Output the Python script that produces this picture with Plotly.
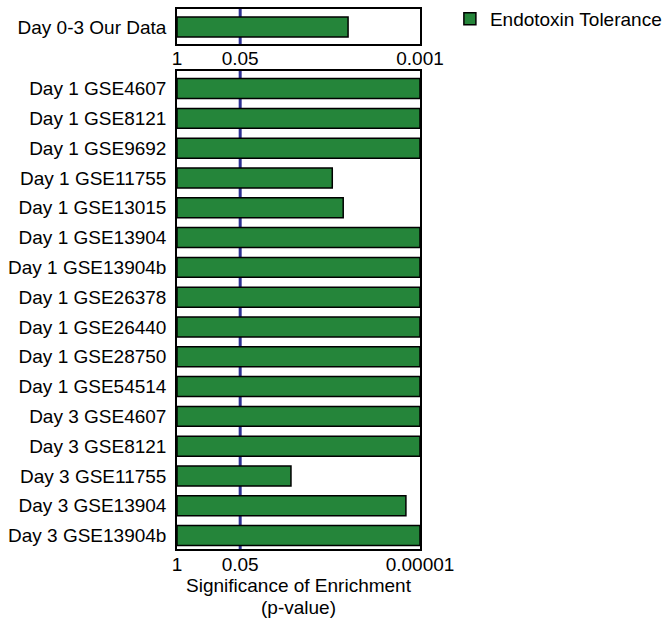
import plotly.graph_objects as go

# Data (bar length in axis units: 0 = "1", 0.26 = "0.05", 1 = max label)
top_categories = ["Day 0-3 Our Data"]
top_values = [0.704]
top_tick_vals = [0, 0.26, 1]
top_tick_text = ["1", "0.05", "0.001"]

bottom_categories = [
    "Day 1 GSE4607", "Day 1 GSE8121", "Day 1 GSE9692", "Day 1 GSE11755",
    "Day 1 GSE13015", "Day 1 GSE13904", "Day 1 GSE13904b", "Day 1 GSE26378",
    "Day 1 GSE26440", "Day 1 GSE28750", "Day 1 GSE54514", "Day 3 GSE4607",
    "Day 3 GSE8121", "Day 3 GSE11755", "Day 3 GSE13904", "Day 3 GSE13904b",
]
bottom_values = [1, 1, 1, 0.639, 0.684, 1, 1, 1, 1, 1, 1, 1, 1, 0.469, 0.942, 1]
bottom_tick_vals = [0, 0.26, 1]
bottom_tick_text = ["1", "0.05", "0.00001"]
threshold = 0.26  # p = 0.05 position

series_name = "Endotoxin Tolerance"
x_title_lines = ["Significance of Enrichment", "(p-value)"]
GREEN = "#25853a"
NAVY = "#2e3192"
FONT = "Liberation Sans, Arial, sans-serif"

fig = go.Figure()

fig.add_trace(go.Bar(
    x=top_values, y=list(range(len(top_categories))), orientation="h",
    width=0.67, marker=dict(color=GREEN, line=dict(color="black", width=1.5)),
    name=series_name, showlegend=True, xaxis="x2", yaxis="y2",
    hoverinfo="skip",
))
fig.add_trace(go.Bar(
    x=bottom_values, y=list(range(len(bottom_categories))), orientation="h",
    width=0.67, marker=dict(color=GREEN, line=dict(color="black", width=1.5)),
    name=series_name, showlegend=False, xaxis="x", yaxis="y",
    hoverinfo="skip",
))

# threshold lines (below bars)
fig.add_shape(type="line", xref="x", yref="y domain", x0=threshold, x1=threshold,
              y0=0, y1=1, line=dict(color=NAVY, width=3), layer="below")
fig.add_shape(type="line", xref="x2", yref="y2 domain", x0=threshold, x1=threshold,
              y0=0, y1=1, line=dict(color=NAVY, width=3), layer="below")

# x-axis title lines as annotations for precise placement
for line_text, offset in zip(x_title_lines, [36, 58]):
    fig.add_annotation(text=line_text, xref="paper", yref="paper", x=0.5,
                       y=-offset / 540, xanchor="center", yanchor="middle",
                       showarrow=False, font=dict(size=19, family=FONT, color="black"))

axis_common = dict(showline=True, mirror=True, linecolor="black", linewidth=1.5,
                   showgrid=False, zeroline=False, automargin=False)

fig.update_layout(
    width=666, height=633,
    margin=dict(l=177, r=246, t=9, b=84, autoexpand=False),
    paper_bgcolor="white", plot_bgcolor="white",
    font=dict(family=FONT, size=19, color="black"),
    barmode="overlay",
    xaxis=dict(domain=[0, 1], anchor="y", range=[0, 1], tickvals=bottom_tick_vals,
               ticktext=bottom_tick_text, ticks="", tickfont=dict(size=19),
               ticklabelstandoff=-3, **axis_common),
    yaxis=dict(domain=[0, 478 / 540], anchor="x", range=[15.45, -0.59],
               tickvals=list(range(len(bottom_categories))), ticktext=bottom_categories,
               ticks="", ticklabelstandoff=5, tickfont=dict(size=19),
               **axis_common),
    xaxis2=dict(domain=[0, 1], anchor="y2", range=[0, 1], tickvals=top_tick_vals,
                ticktext=top_tick_text, ticks="", tickfont=dict(size=19),
                ticklabelstandoff=-4, **axis_common),
    yaxis2=dict(domain=[1 - 35 / 540, 1], anchor="x2", range=[0.57, -0.6],
                tickvals=list(range(len(top_categories))), ticktext=top_categories,
                ticks="", ticklabelstandoff=5, tickfont=dict(size=19),
                **axis_common),
    legend=dict(x=1.123, y=1.017, xanchor="left", yanchor="top",
                font=dict(size=19), bgcolor="rgba(0,0,0,0)"),
)

fig.write_html("out.html", config={"displayModeBar": False},
               post_script="document.body.style.margin='0';document.body.style.overflow='hidden';")
